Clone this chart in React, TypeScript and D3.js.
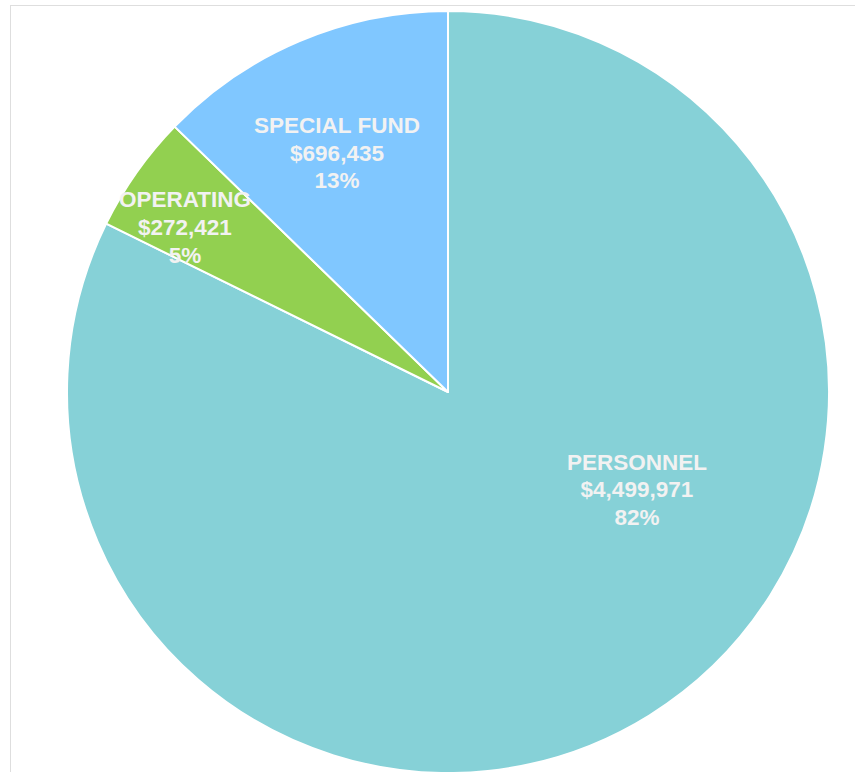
import React from "react";
import * as d3 from "d3";

const categories = ["PERSONNEL", "OPERATING", "SPECIAL FUND"];
const amounts = [4499971, 272421, 696435];
const percentLabels = ["82%", "5%", "13%"];
const colors = ["#86D1D7", "#92D050", "#80C7FF"];

// label placement: angle (deg, clockwise from top) and radius fraction
const labelAngles = [117.3, 302.1, 335.1];
const labelRadii = [0.558, 0.815, 0.692];

const W = 855;
const H = 772;
const cx = 448;
const cy = 392;
const R = 381;

export default function App() {
  const pie = d3.pie<number>().sort(null).value((d) => d)(amounts);
  const arc = d3.arc<d3.PieArcDatum<number>>().innerRadius(0).outerRadius(R);
  const fmt = d3.format("$,");
  const lineH = 27.8;

  return (
    <svg
      width={W}
      height={H}
      style={{ position: "absolute", left: 0, top: 0, display: "block" }}
      fontFamily="'Liberation Sans', Arial, sans-serif"
    >
      <rect x={0} y={0} width={W} height={H} fill="#ffffff" />
      <rect x={10.5} y={5.5} width={W + 50} height={H + 50} fill="#ffffff" stroke="#dedede" strokeWidth={1} />
      <g transform={`translate(${cx},${cy})`}>
        {pie.map((p, i) => (
          <path key={i} d={arc(p) || ""} fill={colors[i]} stroke="#ffffff" strokeWidth={2} strokeLinejoin="round" />
        ))}
        {pie.map((p, i) => {
          const a = (labelAngles[i] * Math.PI) / 180;
          const r = labelRadii[i] * R;
          const x = r * Math.sin(a);
          const y = -r * Math.cos(a);
          const lines = [categories[i], fmt(amounts[i]), percentLabels[i]];
          return (
            <text
              key={"t" + i}
              x={x}
              y={y}
              textAnchor="middle"
              fill="#F2F2F2"
              fontWeight="bold"
              fontSize={22.5}
            >
              {lines.map((l, j) => (
                <tspan key={j} x={x} y={y + (j - 1) * lineH + 7.8}>
                  {l}
                </tspan>
              ))}
            </text>
          );
        })}
      </g>
    </svg>
  );
}
